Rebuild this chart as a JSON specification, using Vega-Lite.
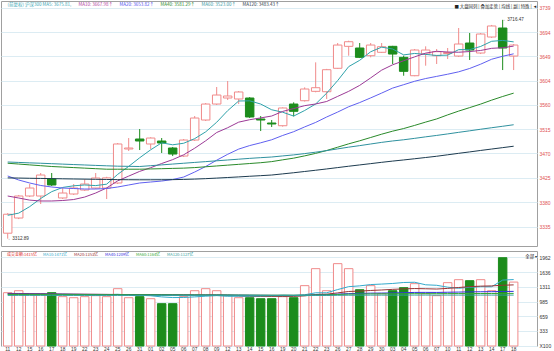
{
"$schema": "https://vega.github.io/schema/vega-lite/v6.json",
"padding": {"left": 0, "top": 0, "right": 0, "bottom": 0},
"background": "white",
"spacing": 3,
"config": {"view": {"stroke": "#a0a0a0"}, "font": "Liberation Sans", "axis": {"labelOverlap": false, "labelSeparation": 0}},
"datasets": {
"k": [
{"d":"2017-05-11","o":3323,"h":3360,"l":3312.89,"c":3358,"v":1180,"a5":3356,"a10":3391.6,"a20":3428.5,"a40":3452,"a60":3454.3,"a120":3425,"b10":1165,"b20":1160,"b40":1150,"b60":1140,"b120":1120},
{"d":"2017-05-12","o":3351,"h":3393.5,"l":3349,"c":3391.6,"v":1224,"a5":3360,"a10":3387.9,"a20":3421.1,"a40":3450.5,"a60":3453.5,"a120":3424.7,"b10":1163,"b20":1158,"b40":1149,"b60":1140,"b120":1120},
{"d":"2017-05-15","o":3391.6,"h":3413.7,"l":3389.7,"c":3406.3,"v":1158,"a5":3372,"a10":3384,"a20":3415.6,"a40":3449,"a60":3452.7,"a120":3424.3,"b10":1160,"b20":1156,"b40":1148,"b60":1139,"b120":1120},
{"d":"2017-05-16","o":3391.6,"h":3434,"l":3376.8,"c":3430.3,"v":1158,"a5":3387,"a10":3382.4,"a20":3411,"a40":3447.5,"a60":3452,"a120":3424,"b10":1155,"b20":1154,"b40":1147,"b60":1139,"b120":1120},
{"d":"2017-05-17","o":3423,"h":3434,"l":3410,"c":3411.9,"v":1180,"a5":3399.6,"a10":3382.4,"a20":3408.2,"a40":3446,"a60":3451.2,"a120":3423.7,"b10":1150,"b20":1152,"b40":1146,"b60":1138,"b120":1120},
{"d":"2017-05-18","o":3388,"h":3406.3,"l":3386,"c":3397.1,"v":1092,"a5":3407.4,"a10":3383.3,"a20":3406.3,"a40":3445,"a60":3450.4,"a120":3423.3,"b10":1147,"b20":1150,"b40":1145,"b60":1138,"b120":1120},
{"d":"2017-05-19","o":3395.3,"h":3413.7,"l":3393.5,"c":3406.3,"v":1069,"a5":3410.4,"a10":3385.1,"a20":3405.4,"a40":3444,"a60":3449.6,"a120":3423,"b10":1143,"b20":1148,"b40":1144,"b60":1137,"b120":1119},
{"d":"2017-05-22","o":3402.6,"h":3423,"l":3400.8,"c":3413.7,"v":1092,"a5":3411.9,"a10":3389.7,"a20":3404.5,"a40":3443,"a60":3448.8,"a120":3422.7,"b10":1140,"b20":1146,"b40":1143,"b60":1137,"b120":1119},
{"d":"2017-05-23","o":3406.3,"h":3434,"l":3404.5,"c":3424.8,"v":1114,"a5":3410.8,"a10":3397.1,"a20":3404.5,"a40":3442,"a60":3448,"a120":3422.4,"b10":1138,"b20":1144,"b40":1142,"b60":1136,"b120":1119},
{"d":"2017-05-24","o":3406.3,"h":3427,"l":3386,"c":3425,"v":1092,"a5":3413.4,"a10":3406.5,"a20":3405.4,"a40":3441,"a60":3447.3,"a120":3422.1,"b10":1136,"b20":1142,"b40":1141,"b60":1136,"b120":1119},
{"d":"2017-05-25","o":3415.6,"h":3489.3,"l":3413.7,"c":3487.5,"v":1269,"a5":3431.5,"a10":3419.5,"a20":3408.2,"a40":3441,"a60":3446.6,"a120":3421.8,"b10":1145,"b20":1140,"b40":1140,"b60":1136,"b120":1119},
{"d":"2017-05-26","o":3478.3,"h":3498.5,"l":3474.6,"c":3480.1,"v":1069,"a5":3446.2,"a10":3428.3,"a20":3411.9,"a40":3441,"a60":3446.3,"a120":3421.6,"b10":1129,"b20":1138,"b40":1139,"b60":1135,"b120":1119},
{"d":"2017-05-31","o":3496.7,"h":3515.1,"l":3476.4,"c":3493,"v":1092,"a5":3462.1,"a10":3437,"a20":3415.6,"a40":3441,"a60":3446,"a120":3421.5,"b10":1123,"b20":1136,"b40":1138,"b60":1135,"b120":1118},
{"d":"2017-06-01","o":3487.5,"h":3500,"l":3478.3,"c":3498.5,"v":1047,"a5":3476.8,"a10":3443.8,"a20":3417.4,"a40":3441.5,"a60":3447.5,"a120":3421.5,"b10":1112,"b20":1134,"b40":1137,"b60":1134,"b120":1118},
{"d":"2017-06-02","o":3493,"h":3498.5,"l":3470.9,"c":3489.3,"v":937,"a5":3489.7,"a10":3451.5,"a20":3419.2,"a40":3442,"a60":3449,"a120":3421.6,"b10":1087,"b20":1131,"b40":1135,"b60":1133,"b120":1118},
{"d":"2017-06-05","o":3480.1,"h":3482,"l":3465.3,"c":3469,"v":937,"a5":3486,"a10":3458.7,"a20":3422,"a40":3442.5,"a60":3450.5,"a120":3421.8,"b10":1072,"b20":1129,"b40":1133,"b60":1132,"b120":1117},
{"d":"2017-06-06","o":3465.3,"h":3496.7,"l":3463.5,"c":3494.8,"v":1092,"a5":3488.9,"a10":3467.6,"a20":3426.6,"a40":3443,"a60":3452,"a120":3422.2,"b10":1074,"b20":1128,"b40":1132,"b60":1131,"b120":1117},
{"d":"2017-06-07","o":3494.8,"h":3539.1,"l":3493,"c":3535.4,"v":1224,"a5":3497.4,"a10":3479.7,"a20":3435.8,"a40":3444,"a60":3453.5,"a120":3422.8,"b10":1087,"b20":1127,"b40":1131,"b60":1131,"b120":1117},
{"d":"2017-06-08","o":3531.7,"h":3563,"l":3529.9,"c":3561.2,"v":1269,"a5":3509.9,"a10":3493.4,"a20":3446,"a40":3445.5,"a60":3455,"a120":3423.6,"b10":1103,"b20":1126,"b40":1131,"b60":1130,"b120":1117},
{"d":"2017-06-09","o":3561.2,"h":3592.6,"l":3559.4,"c":3577.8,"v":1224,"a5":3527.6,"a10":3508.7,"a20":3457.6,"a40":3447,"a60":3456.5,"a120":3424.6,"b10":1116,"b20":1126,"b40":1131,"b60":1130,"b120":1117},
{"d":"2017-06-12","o":3572.3,"h":3603.6,"l":3568.6,"c":3576,"v":1114,"a5":3549,"a10":3517.5,"a20":3468.5,"a40":3448.5,"a60":3458,"a120":3425.7,"b10":1101,"b20":1123,"b40":1130,"b60":1129,"b120":1116},
{"d":"2017-06-13","o":3570.5,"h":3585.2,"l":3561.2,"c":3583.4,"v":1069,"a5":3566.8,"a10":3527.8,"a20":3478.1,"a40":3450,"a60":3459.5,"a120":3426.8,"b10":1101,"b20":1115,"b40":1128,"b60":1128,"b120":1116},
{"d":"2017-06-14","o":3572.3,"h":3574,"l":3535.4,"c":3537.3,"v":1069,"a5":3567.1,"a10":3532.3,"a20":3484.6,"a40":3451.5,"a60":3461,"a120":3428,"b10":1098,"b20":1110,"b40":1126,"b60":1127,"b120":1116},
{"d":"2017-06-15","o":3533.6,"h":3539.1,"l":3511.4,"c":3531.7,"v":1047,"a5":3561.2,"a10":3535.6,"a20":3489.7,"a40":3453,"a60":3462.3,"a120":3429.1,"b10":1098,"b20":1105,"b40":1124,"b60":1126,"b120":1115},
{"d":"2017-06-16","o":3526.2,"h":3531.7,"l":3518.8,"c":3524.4,"v":1047,"a5":3550.6,"a10":3539.1,"a20":3495.3,"a40":3455,"a60":3463.5,"a120":3430.3,"b10":1109,"b20":1098,"b40":1122,"b60":1125,"b120":1115},
{"d":"2017-06-19","o":3521.2,"h":3555,"l":3519.5,"c":3553.9,"v":1092,"a5":3546.1,"a10":3547.6,"a20":3503.2,"a40":3458.3,"a60":3465.5,"a120":3432.4,"b10":1125,"b20":1098,"b40":1121,"b60":1125,"b120":1115},
{"d":"2017-06-20","o":3561.2,"h":3564.4,"l":3538.5,"c":3547.8,"v":1069,"a5":3539,"a10":3552.9,"a20":3510.2,"a40":3461.4,"a60":3467.4,"a120":3434.5,"b10":1122,"b20":1098,"b40":1120,"b60":1124,"b120":1115},
{"d":"2017-06-21","o":3567.3,"h":3592,"l":3565.8,"c":3588.9,"v":1336,"a5":3549.3,"a10":3558.2,"a20":3519,"a40":3465.6,"a60":3469.8,"a120":3436.8,"b10":1134,"b20":1110,"b40":1123,"b60":1125,"b120":1116},
{"d":"2017-06-22","o":3584.6,"h":3638.1,"l":3582.8,"c":3591.3,"v":1712,"a5":3561.3,"a10":3561.3,"a20":3527.3,"a40":3470.2,"a60":3472.4,"a120":3439.1,"b10":1178,"b20":1140,"b40":1132,"b60":1130,"b120":1118},
{"d":"2017-06-23","o":3583.9,"h":3626,"l":3570.5,"c":3624.5,"v":1224,"a5":3581.3,"a10":3565.9,"a20":3537.3,"a40":3475.5,"a60":3475.3,"a120":3441.5,"b10":1178,"b20":1147,"b40":1135,"b60":1132,"b120":1118},
{"d":"2017-06-26","o":3627.1,"h":3673.7,"l":3626,"c":3670,"v":1823,"a5":3604.5,"a10":3575.3,"a20":3546.4,"a40":3481.6,"a60":3478.5,"a120":3444,"b10":1249,"b20":1175,"b40":1148,"b60":1140,"b120":1122},
{"d":"2017-06-27","o":3667.6,"h":3678,"l":3650.3,"c":3676.1,"v":1712,"a5":3630.2,"a10":3584.6,"a20":3556.2,"a40":3487.8,"a60":3481.7,"a120":3446.5,"b10":1313,"b20":1207,"b40":1160,"b60":1148,"b120":1124},
{"d":"2017-06-28","o":3664.5,"h":3673.7,"l":3646,"c":3647.3,"v":1246,"a5":3641.8,"a10":3595.6,"a20":3563.9,"a40":3493.4,"a60":3484.5,"a120":3448.9,"b10":1331,"b20":1215,"b40":1164,"b60":1150,"b120":1125},
{"d":"2017-06-29","o":3650.3,"h":3673.7,"l":3647.3,"c":3670,"v":1336,"a5":3657.6,"a10":3609.4,"a20":3572.5,"a40":3499.5,"a60":3487.5,"a120":3451.3,"b10":1360,"b20":1229,"b40":1170,"b60":1153,"b120":1126},
{"d":"2017-06-30","o":3656.6,"h":3673.7,"l":3655.3,"c":3666.9,"v":1158,"a5":3666.1,"a10":3623.7,"a20":3581.4,"a40":3505.6,"a60":3490.5,"a120":3453.7,"b10":1371,"b20":1240,"b40":1172,"b60":1154,"b120":1126},
{"d":"2017-07-03","o":3667.6,"h":3668.5,"l":3635,"c":3653.4,"v":1224,"a5":3662.7,"a10":3633.6,"a20":3590.6,"a40":3511.2,"a60":3493.1,"a120":3456,"b10":1384,"b20":1254,"b40":1175,"b60":1155,"b120":1126},
{"d":"2017-07-04","o":3647.3,"h":3650.3,"l":3613.4,"c":3621.5,"v":1291,"a5":3651.8,"a10":3641,"a20":3596.9,"a40":3516,"a60":3495.3,"a120":3458.1,"b10":1406,"b20":1264,"b40":1180,"b60":1157,"b120":1127},
{"d":"2017-07-05","o":3613.4,"h":3662.7,"l":3612.5,"c":3660.8,"v":1380,"a5":3654.5,"a10":3648.2,"a20":3603.2,"a40":3521.8,"a60":3497.9,"a120":3460.3,"b10":1411,"b20":1272,"b40":1186,"b60":1159,"b120":1127},
{"d":"2017-07-06","o":3653.4,"h":3667.6,"l":3631.9,"c":3660.8,"v":1158,"a5":3652.7,"a10":3655.1,"a20":3608.2,"a40":3527.9,"a60":3500.7,"a120":3462.6,"b10":1355,"b20":1267,"b40":1187,"b60":1159,"b120":1127},
{"d":"2017-07-07","o":3650.3,"h":3662.7,"l":3635,"c":3657.7,"v":1114,"a5":3650.8,"a10":3658.5,"a20":3612.2,"a40":3533.7,"a60":3503.3,"a120":3464.9,"b10":1344,"b20":1261,"b40":1186,"b60":1159,"b120":1127},
{"d":"2017-07-10","o":3654.4,"h":3664.5,"l":3644.2,"c":3656.2,"v":1402,"a5":3651.4,"a10":3657.1,"a20":3616.2,"a40":3541.2,"a60":3506.1,"a120":3467.6,"b10":1302,"b20":1275,"b40":1190,"b60":1160,"b120":1127},
{"d":"2017-07-11","o":3649.7,"h":3701.4,"l":3647.9,"c":3671.9,"v":1468,"a5":3661.5,"a10":3656.7,"a20":3620.6,"a40":3548.2,"a60":3509,"a120":3470.3,"b10":1278,"b20":1295,"b40":1194,"b60":1161,"b120":1127},
{"d":"2017-07-12","o":3673.7,"h":3692.2,"l":3642.4,"c":3660.8,"v":1446,"a5":3661.5,"a10":3658,"a20":3626.8,"a40":3554.6,"a60":3511.8,"a120":3472.9,"b10":1300,"b20":1314,"b40":1198,"b60":1161,"b120":1127},
{"d":"2017-07-13","o":3655.3,"h":3692.2,"l":3653.4,"c":3690.3,"v":1468,"a5":3667.4,"a10":3660,"a20":3634.7,"a40":3561.1,"a60":3514.7,"a120":3475.6,"b10":1310,"b20":1325,"b40":1201,"b60":1162,"b120":1127},
{"d":"2017-07-14","o":3684.8,"h":3707,"l":3683,"c":3705.1,"v":1224,"a5":3676.9,"a10":3663.9,"a20":3643.8,"a40":3568.4,"a60":3517.5,"a120":3478.2,"b10":1312,"b20":1330,"b40":1202,"b60":1162,"b120":1127},
{"d":"2017-07-17","o":3701.4,"h":3716.47,"l":3623.9,"c":3664.5,"v":1955,"a5":3678.5,"a10":3665,"a20":3649.3,"a40":3575.1,"a60":3520.2,"a120":3480.8,"b10":1459,"b20":1345,"b40":1207,"b60":1164,"b120":1127},
{"d":"2017-07-18","o":3649.7,"h":3671.9,"l":3623.9,"c":3670,"v":1415,"a5":3675.8,"a10":3668,"a20":3653.8,"a40":3581.3,"a60":3523,"a120":3483.4,"b10":1471,"b20":1353,"b40":1209,"b60":1164,"b120":1127}
],
"notes": [
{"d":"2017-07-17","p":3716.47,"t":"←3716.47"},
{"d":"2017-05-11","p":3312.89,"t":"←3312.89"}
]
},
"vconcat": [
{
"width": 536,
"height": 245,
"title": {"text": "■ 大盘同列 | 叠加走势 | 均线 | 副 | 特殊 | ◄", "anchor": "end", "frame": "group", "offset": -8, "fontSize": 4.4, "fontWeight": "normal", "color": "#222", "font": "Noto Sans CJK SC"},
"layer": [
{
"data": {"name": "k"},
"mark": {"type": "rule", "strokeWidth": 1},
"encoding": {
"x": {"field": "d", "type": "ordinal", "scale": {"type": "band", "paddingInner": 0.23, "paddingOuter": 0.98, "align": 0.114}, "axis": {"labels": false, "ticks": false, "domain": false, "title": null}},
"y": {"field": "l", "type": "quantitative", "scale": {"domain": [3299.4, 3751.2], "zero": false, "nice": false}, "axis": {"orient": "right", "title": null, "values": [3335, 3380, 3425, 3470, 3515, 3560, 3604, 3649, 3694, 3739], "tickCount": 30, "format": "d", "labelOverlap": false, "labelColor": "#e05050", "labelFontSize": 5, "ticks": false, "labelPadding": 2, "domain": false, "gridColor": "#dcecf3", "grid": true, "labelFont": "Liberation Sans"}},
"y2": {"field": "h"},
"color": {"condition": {"test": "datum.c < datum.o", "value": "#1c8c1c"}, "value": "#f08a8a"}
}
},
{
"data": {"name": "k"},
"mark": {"type": "bar", "strokeWidth": 1},
"encoding": {
"x": {"field": "d", "type": "ordinal"},
"y": {"field": "o", "type": "quantitative"},
"y2": {"field": "c"},
"fill": {"condition": {"test": "datum.c < datum.o", "value": "#1c8c1c"}, "value": "#ffffff"},
"stroke": {"condition": {"test": "datum.c < datum.o", "value": "#1c8c1c"}, "value": "#f08a8a"}
}
},
{
"data": {"name": "k"},
"transform": [{"fold": ["a5", "a10", "a20", "a40", "a60", "a120"], "as": ["s", "val"]}],
"mark": {"type": "line", "strokeWidth": 1},
"encoding": {
"x": {"field": "d", "type": "ordinal"},
"y": {"field": "val", "type": "quantitative"},
"color": {"field": "s", "type": "nominal",
"scale": {"domain": ["a5", "a10", "a20", "a40", "a60", "a120"], "range": ["#2fa2aa", "#9c3a96", "#6060f0", "#2a8a2a", "#2f919f", "#1d3b4f"]},
"legend": {"orient": "top-left", "direction": "horizontal", "columns": 6, "title": null, "offset": 2, "padding": 0, "columnPadding": 2, "symbolSize": 0, "symbolOpacity": 0, "symbolStrokeWidth": 0, "labelOffset": 0, "labelFontSize": 4.5, "labelFont": "Noto Sans CJK SC", "labelLimit": 300,
"labelExpr": "datum.value=='a5'?'(前复权) 沪深300 MA5: 3675.81,':datum.value=='a10'?'MA10: 3667.98↑':datum.value=='a20'?'MA20: 3653.82↑':datum.value=='a40'?'MA40: 3581.29↑':datum.value=='a60'?'MA60: 3523.00↑':'MA120: 3483.43↑'",
"labelColor": {"expr": "datum.value=='a5'?'#3aa6b4':datum.value=='a10'?'#b03c9c':datum.value=='a20'?'#5050ee':datum.value=='a40'?'#2a8a2a':datum.value=='a60'?'#3a9aa4':'#2a3a4a'"}}
}
}
},
{
"data": {"name": "notes"},
"mark": {"type": "text", "align": "left", "baseline": "middle", "fontSize": 4.6, "color": "#333", "font": "Liberation Sans"},
"encoding": {
"x": {"field": "d", "type": "ordinal"},
"y": {"field": "p", "type": "quantitative"},
"text": {"field": "t"}
}
}
]
},
{
"width": 536,
"height": 95,
"title": {"text": "全部            ▾", "anchor": "end", "frame": "group", "offset": -8, "fontSize": 4.4, "fontWeight": "normal", "color": "#222", "font": "Noto Sans CJK SC"},
"layer": [
{
"data": {"name": "k"},
"mark": {"type": "bar", "strokeWidth": 1},
"encoding": {
"x": {"field": "d", "type": "ordinal", "scale": {"type": "band", "paddingInner": 0.23, "paddingOuter": 0.98, "align": 0.114}, "axis": {"title": null, "labelExpr": "slice(datum.value, 8, 10)", "labelOverlap": false, "labelFontSize": 4.8, "labelColor": "#333", "ticks": false, "labelPadding": 0, "domain": false, "labelAngle": 0, "labelFont": "Liberation Sans"}},
"y": {"field": "v", "type": "quantitative", "scale": {"domain": [0, 2103], "nice": false}, "axis": {"orient": "right", "title": null, "values": [7, 333, 659, 985, 1311, 1636, 1962], "tickCount": 30, "format": "d", "labelOverlap": false, "labelExpr": "datum.value < 100 ? 'X100' : datum.label", "labelColor": "#333", "labelFontSize": 5, "ticks": false, "labelPadding": 2, "domain": false, "gridColor": "#dcecf3", "labelFont": "Liberation Sans"}},
"fill": {"condition": {"test": "datum.c < datum.o", "value": "#1c8c1c"}, "value": "#ffffff"},
"stroke": {"condition": {"test": "datum.c < datum.o", "value": "#1c8c1c"}, "value": "#f08a8a"}
}
},
{
"data": {"name": "k"},
"transform": [{"fold": ["b10", "b20", "b40", "b60", "b120"], "as": ["s", "val"]}],
"mark": {"type": "line", "strokeWidth": 1},
"encoding": {
"x": {"field": "d", "type": "ordinal"},
"y": {"field": "val", "type": "quantitative"},
"color": {"field": "s", "type": "nominal",
"scale": {"domain": ["vol", "b10", "b20", "b40", "b60", "b120"], "range": ["#e03030", "#33aacc", "#993333", "#3333dd", "#33aa33", "#33a0a0"]},
"legend": {"orient": "top-left", "direction": "horizontal", "columns": 6, "title": null, "offset": 2, "padding": 0, "columnPadding": 2, "symbolSize": 0, "symbolOpacity": 0, "symbolStrokeWidth": 0, "labelOffset": 0, "labelFontSize": 4, "labelFont": "Noto Sans CJK SC", "labelLimit": 300,
"labelExpr": "datum.value=='vol'?'成交金额:1415亿':datum.value=='b10'?'MA10:1471亿':datum.value=='b20'?'MA20:1353亿':datum.value=='b40'?'MA40:1209亿':datum.value=='b60'?'MA60:1164亿':'MA120:1127亿'",
"labelColor": {"expr": "datum.value=='vol'?'#e03030':datum.value=='b10'?'#33aacc':datum.value=='b20'?'#993333':datum.value=='b40'?'#3333dd':datum.value=='b60'?'#33aa33':'#33a0a0'"}}
}
}
}
]
}
],
"resolve": {"scale": {"color": "independent", "x": "independent", "y": "independent"}, "legend": {"color": "independent"}}
}
